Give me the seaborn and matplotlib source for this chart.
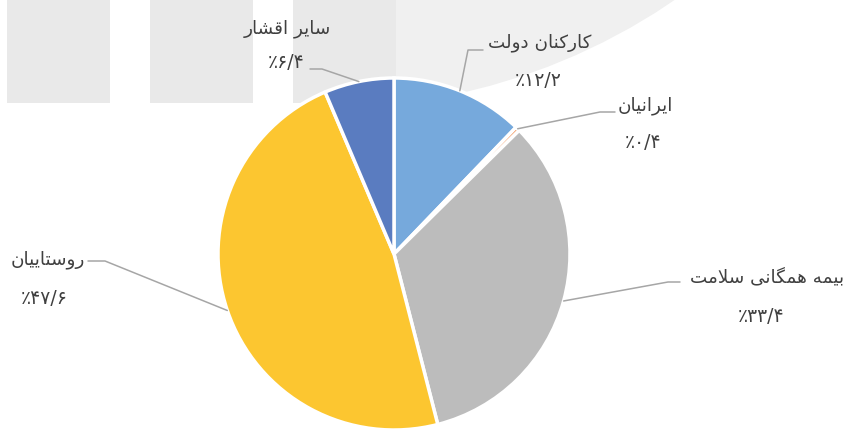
import seaborn as sns
import numpy as np
import matplotlib
matplotlib.use("Agg")
from matplotlib import pyplot as plt
from matplotlib.patches import Rectangle, Circle

# data (clockwise from the top)
labels = ["کارکنان دولت", "ایرانیان", "بیمه همگانی سلامت", "روستاییان", "سایر اقشار"]
values = [12.2, 0.4, 33.4, 47.6, 6.4]
colors = ["#76a9dc", "#f08a4b", "#bcbcbc", "#fcc630", "#5a7cc0"]

# layout (pixel coords, y from the top)
W, H = 850, 432
center = (394, 254)
radius = 176
name_pos = [(540, 43), (645, 106), (767, 277), (48, 260), (287, 29)]
pct_pos = [(538, 80), (643, 142), (761, 316), (44, 298), (286, 63)]
elbows = [(468, 50), (600, 112), (668, 282), (105, 261), (322, 69)]
line_ends = [(483, 50), (615, 112), (680, 282), (88, 261), (310, 69)]

# minimal arabic/persian shaping, matplotlib has no complex text layout
FORMS = {
    'ا': ('\uFE8D', '\uFE8E', None, None),
    'ب': ('\uFE8F', '\uFE90', '\uFE91', '\uFE92'),
    'ت': ('\uFE95', '\uFE96', '\uFE97', '\uFE98'),
    'د': ('\uFEA9', '\uFEAA', None, None),
    'ر': ('\uFEAD', '\uFEAE', None, None),
    'س': ('\uFEB1', '\uFEB2', '\uFEB3', '\uFEB4'),
    'ش': ('\uFEB5', '\uFEB6', '\uFEB7', '\uFEB8'),
    'ق': ('\uFED5', '\uFED6', '\uFED7', '\uFED8'),
    'ک': ('\uFB8E', '\uFB8F', '\uFB90', '\uFB91'),
    'گ': ('\uFB92', '\uFB93', '\uFB94', '\uFB95'),
    'ل': ('\uFEDD', '\uFEDE', '\uFEDF', '\uFEE0'),
    'م': ('\uFEE1', '\uFEE2', '\uFEE3', '\uFEE4'),
    'ن': ('\uFEE5', '\uFEE6', '\uFEE7', '\uFEE8'),
    'ه': ('\uFEE9', '\uFEEA', '\uFEEB', '\uFEEC'),
    'و': ('\uFEED', '\uFEEE', None, None),
    'ی': ('\uFBFC', '\uFBFD', '\uFBFE', '\uFBFF'),
}


def shape(text):
    out = []
    i = 0
    while i < len(text):
        ch = text[i]
        if ch not in FORMS:
            out.append(ch)
            i += 1
            continue
        prev = text[i - 1] if i > 0 else ''
        joins_prev = prev in FORMS and FORMS[prev][2] is not None
        if ch == 'ل' and text[i + 1:i + 2] == 'ا':
            out.append('\uFEFC' if joins_prev else '\uFEFB')
            i += 2
            continue
        nxt = text[i + 1] if i + 1 < len(text) else ''
        joins_next = FORMS[ch][2] is not None and nxt in FORMS
        iso, fin, ini, med = FORMS[ch]
        if joins_prev and joins_next:
            out.append(med)
        elif joins_prev:
            out.append(fin)
        elif joins_next:
            out.append(ini)
        else:
            out.append(iso)
        i += 1
    return ''.join(reversed(out))


def fa_pct(v):
    s = f"{v:.1f}".replace('.', '/')
    return '٪' + s.translate(str.maketrans('0123456789', '۰۱۲۳۴۵۶۷۸۹'))


sns.set_theme(style="white")
plt.rcParams['font.family'] = ['DejaVu Sans']

fig = plt.figure(figsize=(8.5, 4.32), dpi=100)
ax = fig.add_axes([0, 0, 1, 1])

# faint watermark background
for x0 in [7, 150, 293]:
    ax.add_patch(Rectangle((x0, H - 103), 103, 103, color="#e9e9e9", zorder=0, lw=0))
arc = Circle((326, H + 509), 617, color="#f0f0f0", zorder=0, lw=0)
ax.add_patch(arc)
clip = Rectangle((396, 0), W, H, transform=ax.transData)
arc.set_clip_path(clip)

wedges, _ = ax.pie(values, colors=colors, startangle=90, counterclock=False,
                   center=(center[0], H - center[1]), radius=radius,
                   wedgeprops=dict(edgecolor="white", linewidth=2.5))

for w, lab, v, npos, ppos, el, le in zip(wedges, labels, values, name_pos, pct_pos, elbows, line_ends):
    ang = np.deg2rad((w.theta1 + w.theta2) / 2)
    ax_x = w.center[0] + w.r * np.cos(ang)
    ax_y = w.center[1] + w.r * np.sin(ang)
    ax.plot([ax_x, el[0], le[0]], [ax_y, H - el[1], H - le[1]], color="#a6a6a6", lw=1.1, zorder=3)
    ax.text(npos[0], H - npos[1], shape(lab), ha="center", va="center",
            fontsize=13.2, color="#404040", zorder=4)
    ax.text(ppos[0], H - ppos[1], fa_pct(v), ha="center", va="center",
            fontsize=13.5, color="#404040", zorder=4)

ax.set_xlim(0, W)
ax.set_ylim(0, H)
ax.set_aspect("equal")
ax.axis("off")

plt.savefig("out.png", dpi=100)
